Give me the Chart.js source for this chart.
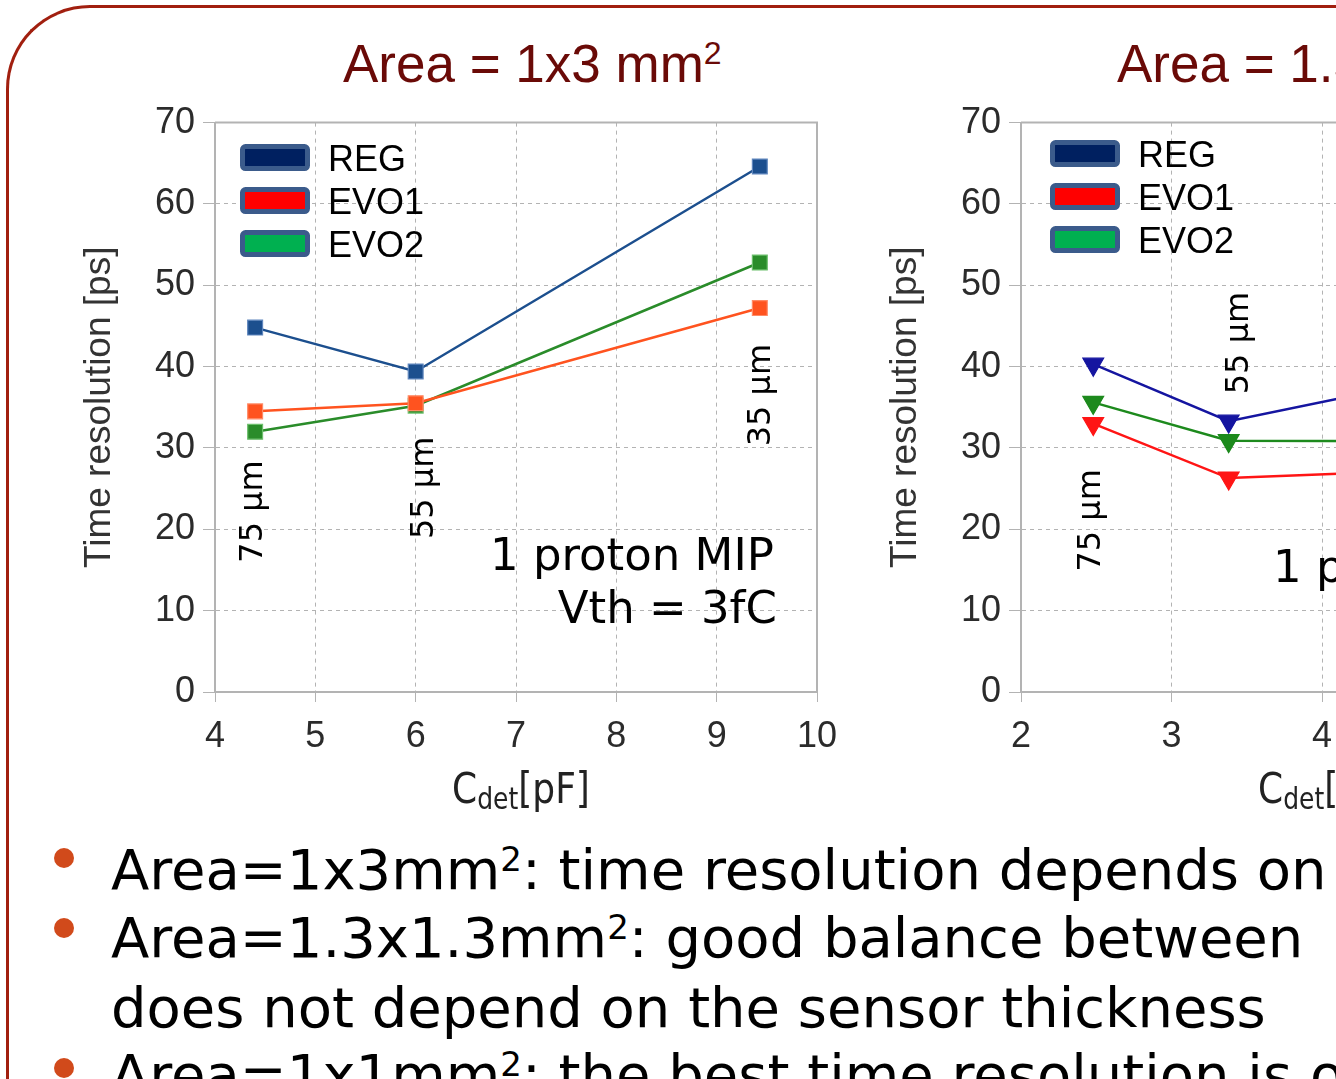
<!DOCTYPE html>
<html>
<head>
<meta charset="utf-8">
<script src="https://cdn.jsdelivr.net/npm/chart.js@4.4.1/dist/chart.umd.min.js"></script>
<style>
  html, body { margin: 0; padding: 0; width: 1336px; height: 1079px; overflow: hidden; background: #fff; }
  #frame { position: absolute; left: 6px; top: 5px; width: 1600px; height: 1300px; box-sizing: border-box;
           border-top: 3px solid #a11f0f; border-left: 3px solid #a11f0f; border-top-left-radius: 84px; }
  .title { position: absolute; top: 37px; font-family: "Liberation Sans", Arial, sans-serif; font-size: 53px;
           line-height: 53px; color: #6a0a07; white-space: nowrap; }
  .title .sp { font-size: 32px; line-height: 32px; vertical-align: top; }
  canvas { position: absolute; top: 93px; }
  .bl { position: absolute; left: 111px; font-family: "DejaVu Sans", sans-serif; font-size: 56px; line-height: 56px;
        color: #000; white-space: nowrap; }
  .bl .sp { font-size: 34px; line-height: 34px; vertical-align: top; }
  .dot { position: absolute; left: 54px; width: 20px; height: 20px; border-radius: 50%; background: #d14a1b; }
</style>
</head>
<body>
<div id="frame"></div>
<div class="title" style="left:343px">Area = 1x3 mm<span class="sp">2</span></div>
<div class="title" style="left:1117px">Area = 1.3x1.3 mm<span class="sp">2</span></div>

<canvas id="left" width="797" height="729" style="left:60px"></canvas>
<canvas id="right" width="797" height="729" style="left:866px"></canvas>

<div class="dot" style="top:848px"></div>
<div class="bl" style="top:842px">Area=1x3mm<span class="sp">2</span>: time resolution depends on the sensor thickness</div>
<div class="dot" style="top:918px"></div>
<div class="bl" style="top:910px">Area=1.3x1.3mm<span class="sp">2</span>: good balance between</div>
<div class="bl" style="top:980px">does not depend on the sensor thickness</div>
<div class="dot" style="top:1058px"></div>
<div class="bl" style="top:1047px">Area=1x1mm<span class="sp">2</span>: the best time resolution is obtained</div>

<script>
// ---- data ----
const seriesNames = ['REG', 'EVO1', 'EVO2'];
const thicknessLabels = ['75 µm', '55 µm', '35 µm'];
const yTicks = [0, 10, 20, 30, 40, 50, 60, 70];

// Area = 1x3 mm2
const leftCdet = [4.4, 6.0, 9.43];
const leftREG  = [44.8, 39.4, 64.6];
const leftEVO1 = [34.5, 35.5, 47.2];
const leftEVO2 = [32.0, 35.2, 52.8];
const leftXTicks = [4, 5, 6, 7, 8, 9, 10];

// Area = 1.3x1.3 mm2
const rightCdet = [2.48, 3.38, 5.3];
const rightREG  = [40.3, 33.3, 40.6];
const rightEVO1 = [33.0, 26.3, 27.7];
const rightEVO2 = [35.6, 30.9, 30.8];
const rightXTicks = [2, 3, 4, 5, 6];

// ---- styling ----
const legendFills = ['#002060', '#ff0000', '#00b050'];
const GRID = '#b3b3b3';
const AXIS_FONT = '"Liberation Sans", Arial, sans-serif';
const NOTE_FONT = '"DejaVu Sans", sans-serif';

const decor = {
  id: 'decor',
  beforeDatasetsDraw(chart) {
    const { ctx, chartArea: a } = chart;
    ctx.save();
    ctx.strokeStyle = GRID; ctx.lineWidth = 2; ctx.setLineDash([]);
    ctx.beginPath();
    ctx.moveTo(a.left, a.top); ctx.lineTo(a.right, a.top); ctx.lineTo(a.right, a.bottom);
    ctx.stroke();
    ctx.restore();
  },
  afterDatasetsDraw(chart, args, opts) {
    const { ctx, chartArea: a, scales: { x, y } } = chart;
    ctx.save();
    // legend inside the plot
    chart.data.datasets.forEach((ds, i) => {
      const bx = a.left + opts.legend.dx;
      const cy = a.top + opts.legend.dy + i * opts.legend.gap;
      ctx.beginPath();
      ctx.roundRect(bx + 2.5, cy - 11, 65, 22, 3);
      ctx.fillStyle = ds.legendFill; ctx.fill();
      ctx.lineWidth = 5; ctx.strokeStyle = '#3b5b8b'; ctx.stroke();
      ctx.fillStyle = '#000';
      ctx.font = '36px ' + AXIS_FONT;
      ctx.textAlign = 'left'; ctx.textBaseline = 'alphabetic';
      ctx.fillText(ds.label, bx + 88, cy + 13);
    });
    // thickness labels and run conditions
    ctx.fillStyle = '#000';
    opts.notes.forEach(n => {
      const px = x.getPixelForValue(n.x), py = y.getPixelForValue(n.y);
      ctx.font = (n.size || 32) + 'px ' + NOTE_FONT;
      ctx.textBaseline = 'alphabetic';
      if (n.rotate) {
        ctx.save(); ctx.translate(px, py); ctx.rotate(-Math.PI / 2);
        ctx.textAlign = 'center'; ctx.fillText(n.text, 0, 0); ctx.restore();
      } else {
        ctx.textAlign = n.align || 'left';
        ctx.fillText(n.text, px, py);
      }
    });
    // x axis title: C_det[pF]
    const big = '36px ' + NOTE_FONT, small = '25px ' + NOTE_FONT;
    ctx.font = big; const wC = ctx.measureText('C').width, wU = ctx.measureText('[pF]').width;
    ctx.font = small; const wS = ctx.measureText('det').width;
    const x0 = (a.left + a.right) / 2 + 5 - (wC + wS + wU) / 2;
    const base = a.bottom + 111;
    ctx.fillStyle = '#222';
    ctx.textAlign = 'left';
    ctx.save(); ctx.translate(0, base); ctx.scale(1, 1.2);
    ctx.font = big; ctx.fillText('C', x0, 0);
    ctx.font = small; ctx.fillText('det', x0 + wC, 5);
    ctx.font = big; ctx.fillText('[pF]', x0 + wC + wS, 0);
    ctx.restore();
    ctx.restore();
  }
};

function series(xs, ys, i, color, edge, style) {
  return {
    label: seriesNames[i],
    legendFill: legendFills[i],
    data: xs.map((v, k) => ({ x: v, y: ys[k] })),
    showLine: true,
    borderColor: color,
    backgroundColor: color,
    borderWidth: 2.5,
    pointStyle: style.shape,
    pointRotation: style.rotation,
    pointRadius: style.radius,
    pointHoverRadius: style.radius,
    pointBackgroundColor: color,
    pointBorderColor: edge,
    pointBorderWidth: 1.2
  };
}

function makeChart(id, datasets, xMin, xMax, xTicks, plugOpts) {
  return new Chart(document.getElementById(id), {
    type: 'scatter',
    data: { datasets },
    options: {
      responsive: false, animation: false,
      layout: { padding: { top: 22, right: 40, bottom: 0, left: 0 } },
      plugins: { legend: { display: false }, tooltip: { enabled: false }, decor: plugOpts },
      scales: {
        x: {
          type: 'linear', min: xMin, max: xMax,
          afterBuildTicks: s => { s.ticks = xTicks.map(v => ({ value: v })); },
          afterFit: s => { s.height = 130; },
          ticks: { font: { family: AXIS_FONT, size: 36 }, color: '#2b2b2b', padding: 13, maxRotation: 0 },
          grid: { color: GRID, lineWidth: 1, tickLength: 10, tickColor: GRID, tickBorderDash: [] },
          border: { color: GRID, width: 2, dash: [4, 4] }
        },
        y: {
          min: 0, max: 70,
          afterBuildTicks: s => { s.ticks = yTicks.map(v => ({ value: v })); },
          afterFit: s => { s.width = 155; },
          ticks: { font: { family: AXIS_FONT, size: 36 }, color: '#2b2b2b', padding: 8 },
          grid: { color: GRID, lineWidth: 1, tickLength: 12, tickColor: GRID, tickBorderDash: [] },
          border: { color: GRID, width: 2, dash: [4, 4] },
          title: { display: true, text: 'Time resolution [ps]', color: '#333',
                   font: { family: AXIS_FONT, size: 37 }, padding: { top: 18, bottom: 0 } }
        }
      }
    },
    plugins: [decor]
  });
}

const sq = { shape: 'rect', rotation: 0, radius: 10.5 };
const tri = { shape: 'triangle', rotation: 180, radius: 12 };

makeChart('left', [
  series(leftCdet, leftREG, 0, '#1c4f8e', '#5f86bd', sq),
  series(leftCdet, leftEVO1, 1, '#ff531f', '#ff8a66', sq),
  series(leftCdet, leftEVO2, 2, '#2a8c2a', '#6cbf6c', sq)
], 4, 10, leftXTicks, {
  legend: { dx: 25, dy: 35, gap: 43 },
  notes: [
    { text: thicknessLabels[0], x: 4.47, y: 22.2, rotate: true },
    { text: thicknessLabels[1], x: 6.17, y: 25.1, rotate: true },
    { text: thicknessLabels[2], x: 9.53, y: 36.5, rotate: true },
    { text: '1 proton MIP', x: 9.57, y: 15.0, align: 'right', size: 45 },
    { text: 'Vth = 3fC', x: 9.6, y: 8.46, align: 'right', size: 45 }
  ]
});

makeChart('right', [
  series(rightCdet, rightREG, 0, '#1515a0', '#1515a0', tri),
  series(rightCdet, rightEVO1, 1, '#ff1515', '#ff1515', tri),
  series(rightCdet, rightEVO2, 2, '#1d8a1d', '#1d8a1d', tri)
], 2, 6, rightXTicks, {
  legend: { dx: 29, dy: 31, gap: 43 },
  notes: [
    { text: thicknessLabels[0], x: 2.525, y: 21.1, rotate: true },
    { text: thicknessLabels[1], x: 3.51, y: 42.9, rotate: true },
    { text: thicknessLabels[2], x: 5.45, y: 48.0, rotate: true },
    { text: '1 proton MIP', x: 5.56, y: 13.5, align: 'right', size: 45 },
    { text: 'Vth = 3fC', x: 5.57, y: 6.8, align: 'right', size: 45 }
  ]
});
</script>
</body>
</html>
